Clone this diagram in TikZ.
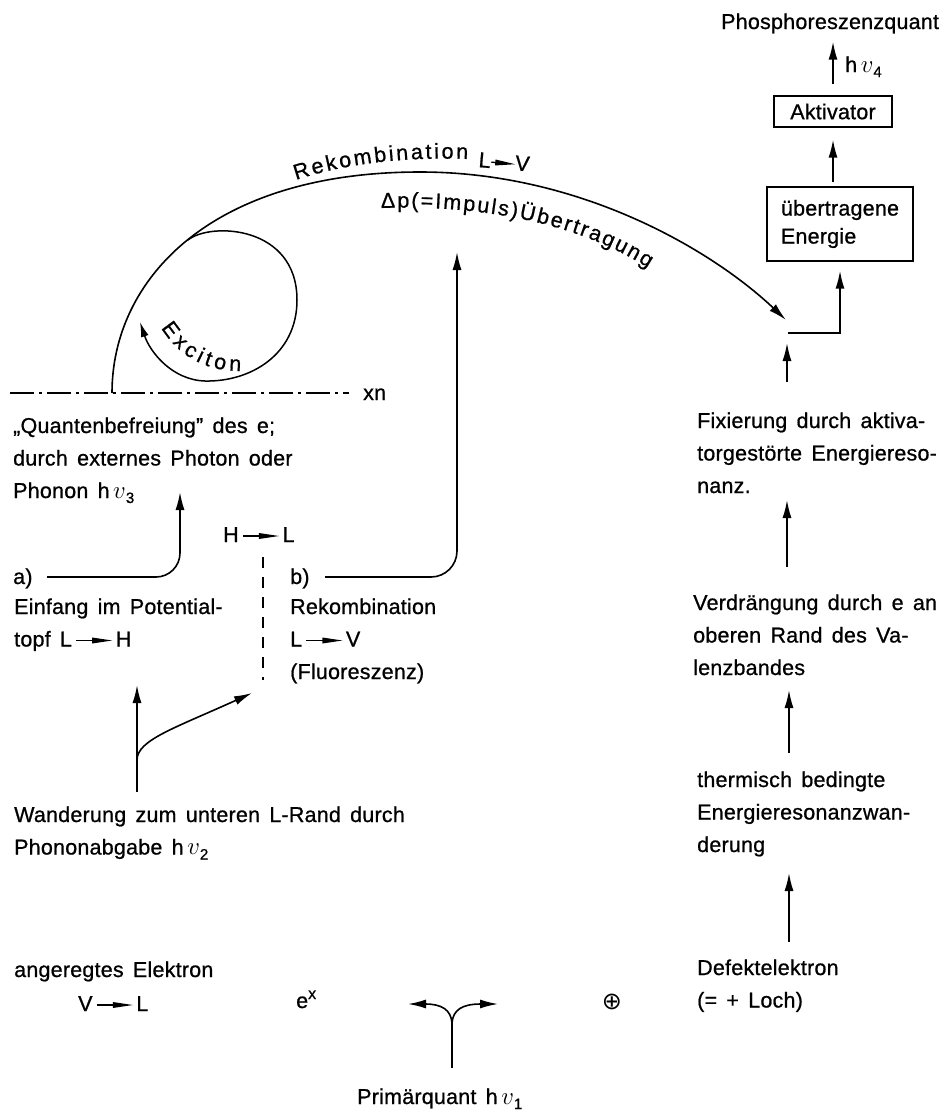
\documentclass[tikz,border=0pt]{standalone}
\usepackage{fontspec}
\usepackage{graphicx}
\setmainfont{Liberation Sans}[LetterSpace=1,WordSpace=1.5,FakeBold=0.8]
\newfontfamily\symfont{DejaVu Sans}
\usetikzlibrary{arrows.meta,decorations.text,calc}
\newcommand\harr[1][36]{\tikz[baseline=0pt]{\draw[line width=1.3pt] (0pt,6pt)--({#1pt-16pt},6pt);\fill ({#1pt-20pt},3pt)--(#1pt,6pt)--({#1pt-20pt},9pt)--cycle;}}
\newcommand\hv[1]{h\,\scalebox{1.2}{$v$}\raisebox{-5pt}{\fontsize{15}{15}\selectfont #1}}
\tikzset{
  txt/.style={anchor=base west, inner sep=0pt, align=left},
  box/.style={draw, line width=1.4pt, inner sep=0pt, align=left},
  arr/.style={line width=1.6pt, -{Latex[length=18pt,width=9pt]}},
  ln/.style={line width=1.6pt},
}
\begin{document}
\fontsize{21.5}{32.5}\selectfont
\begin{tikzpicture}[x=1pt,y=-1pt]
\useasboundingbox (0,0) rectangle (941,1111);

% top right chain
\node[txt] (phos) at (721,29) {Phosphoreszenzquant};
\node[txt] (hv4) at (845,72) {\hv{4}};
\node[box, minimum width=118pt, minimum height=31pt, align=center] (akt) at (833,111.5) {Aktivator};
\node[box, minimum width=146pt, minimum height=74pt, font=\fontsize{21.5}{28}\selectfont] (ue) at (840,224) {übertragene\\Energie};
\draw[arr, shorten <=11pt, shorten >=8pt] (akt.north) -- (akt.north |- phos.south);
\draw[arr, shorten <=4pt, shorten >=12pt] (ue.north -| akt.south) -- (akt.south);
\coordinate (brk) at (788,333);
\draw[arr, shorten >=9pt] (brk) -| (ue.south);

% right column (anchors at the baseline of the last line)
\node[txt] (fix) at (697,493) {Fixierung durch aktiva-\\torgestörte Energiereso-\\nanz.};
\node[txt] (verd) at (693,675) {Verdrängung durch e an\\oberen Rand des Va-\\lenzbandes};
\node[txt] (therm) at (697,852) {thermisch bedingte\\Energieresonanzwan-\\derung};
\node[txt] (def) at (697,1007.5) {Defektelektron\\(= + Loch)};
\coordinate (f0) at (787,382); \coordinate (f1) at (787,343);
\coordinate (v0) at (787,567); \coordinate (v1) at (787,500);
\coordinate (t0) at (789,753); \coordinate (t1) at (789,690);
\coordinate (d0) at (789,942); \coordinate (d1) at (789,873);
\draw[arr] (f0) -- (f1);
\draw[arr] (v0) -- (v1);
\draw[arr] (t0) -- (t1);
\draw[arr] (d0) -- (d1);

% bottom
\node[inner sep=0pt] (plus) at (612,1002) {\symfont\fontsize{24}{24}\selectfont ⊕};
\node[txt] (ex) at (296,1008) {e\raisebox{9pt}{\fontsize{16}{16}\selectfont x}};
\node[txt] (prim) at (357,1104) {Primärquant \hv{1}};
\coordinate (y0) at (452,1068); \coordinate (yj) at (452,1023);
\coordinate (yl) at (408,1004); \coordinate (yr) at (498,1004);
\draw[ln] (y0) -- (yj);
\draw[arr] (yj) .. controls (451,1010) and (442,1004) .. (yl);
\draw[arr] (yj) .. controls (453,1010) and (462,1004) .. (yr);
\node[txt] (ang) at (14,977) {angeregtes Elektron};
\node[txt] (vl) at (78,1011) {V\,\harr\,L};

% left middle
\node[txt] (wand) at (14,854.5) {Wanderung zum unteren L-Rand durch\\Phononabgabe \hv{2}};
\coordinate (w0) at (137,792); \coordinate (w1) at (137,685);
\coordinate (wb) at (137,760); \coordinate (wt) at (252,693);
\draw[arr] (w0) -- (w1);
\draw[arr] (wb) .. controls (137,740) and (175,728) .. (wt);
\coordinate (ds0) at (263,557); \coordinate (ds1) at (263,680);
\draw[line width=1.4pt, dash pattern=on 11pt off 9pt] (ds0) -- (ds1);
\node[txt] (hl) at (223,542) {H\,\harr\,L};
\node[txt] (a) at (13,584) {a)};
\node[txt] (ein) at (14,646.5) {Einfang im Potential-\\topf L\,\harr\,H};
\node[txt] (b) at (290,584) {b)};
\node[txt] (rek) at (290,679) {Rekombination\\L\,\harr\,V\\(Fluoreszenz)};
\coordinate (a0) at (47,577); \coordinate (atip) at (180,492);
\draw[arr, rounded corners=24pt] (a0) -| (atip);
\coordinate (b0) at (325,577); \coordinate (btip) at (457,252);
\draw[arr, rounded corners=26pt] (b0) -| (btip);

\node[txt] (quant) at (13,498) {„Quantenbefreiung” des e;\\durch externes Photon oder\\Phonon \hv{3}};
\node[txt] (xn) at (363,400) {xn};
\coordinate (xn0) at (10,393);
\draw[line width=1.4pt, dash pattern=on 24pt off 5pt on 3pt off 5pt, shorten >=14pt] (xn0) -- (xn.west |- xn0);

% big curve and exciton loop
\coordinate (cs) at (112,393); \coordinate (ctop) at (420,172); \coordinate (cend) at (786,320);
\draw[arr] (cs) .. controls (112,280) and (210,172) .. (ctop) .. controls (580,172) and (712,250) .. (cend);
\coordinate (lp0) at (188,240); \coordinate (lp1) at (297,300); \coordinate (lp2) at (205,381); \coordinate (lpt) at (140,322);
\draw[line width=1.5pt, -{Latex[length=15pt,width=8pt]}] (lp0) .. controls (210,222) and (297,225) .. (lp1) .. controls (297,355) and (250,382) .. (lp2) .. controls (172,380) and (150,352) .. (lpt);

\path[decorate, decoration={text along path, text={Exciton}, text align=fit to path}] (161,328) .. controls (180,357) and (205,371) .. (241,371);
\path[decorate, decoration={text along path, text={Rekombination}, text align=fit to path}] (296,180) .. controls (350,162) and (410,157) .. (468,159);
\node[anchor=base west, inner sep=0pt, rotate=-5] (lv) at (478,167) {L\harr[24]V};
\path[decorate, decoration={text along path, text={Δp(=Impuls)Übertragung}, text align=fit to path}] (381,208) .. controls (470,205) and (572,219) .. (648,268);
\end{tikzpicture}
\end{document}
